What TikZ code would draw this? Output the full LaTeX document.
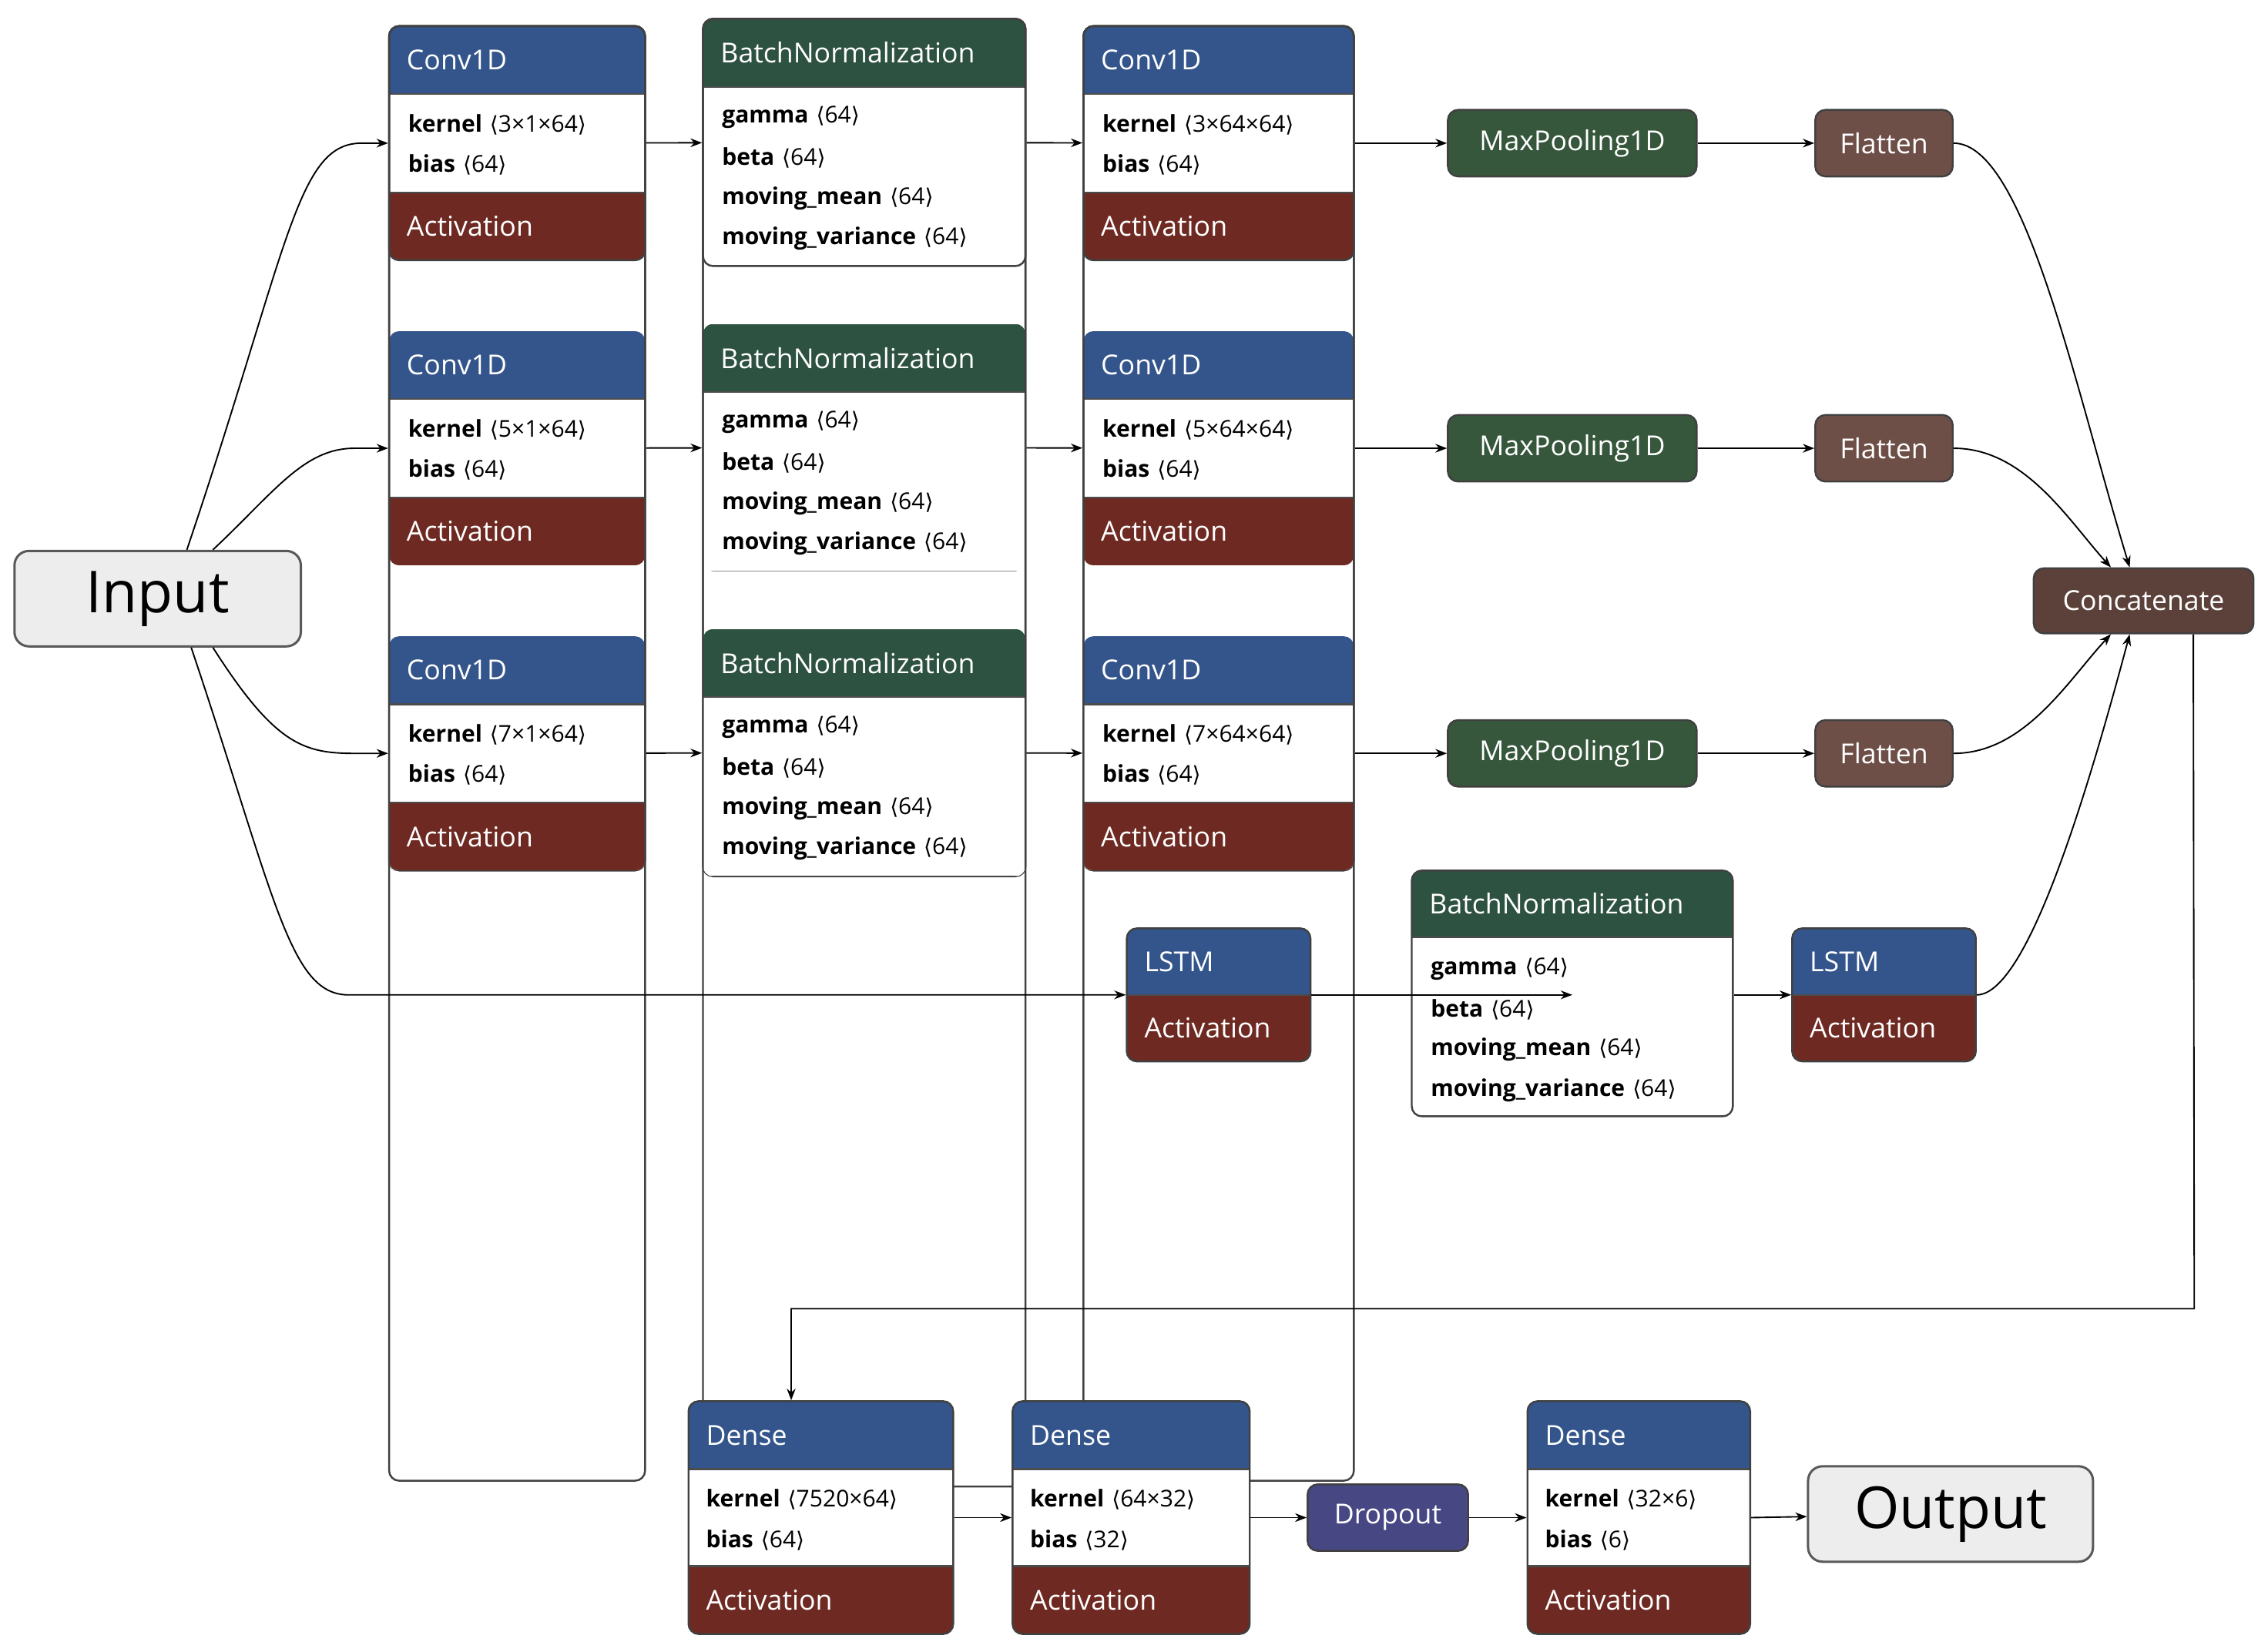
\documentclass[tikz,border=0pt]{standalone}
\usepackage{fontspec}
\setmainfont{Open Sans}
\newfontfamily\dv{DejaVu Sans}
\usetikzlibrary{arrows.meta}
\definecolor{hblue}{HTML}{34558B}
\definecolor{hgreen}{HTML}{2E5241}
\definecolor{actc}{HTML}{6E2A22}
\definecolor{mpc}{HTML}{36573B}
\definecolor{flc}{HTML}{6E4F48}
\definecolor{catc}{HTML}{5C413A}
\definecolor{dropc}{HTML}{474784}
\newcommand\ang[1]{{\dv\fontsize{15}{15}\selectfont⟨}#1{\dv\fontsize{15}{15}\selectfont⟩}}
\tikzset{
 ttl/.style={text=white,font=\fontsize{19}{22}\selectfont,inner sep=0pt},
 bd/.style={font=\fontsize{16}{18}\selectfont,inner sep=0pt},
 simple/.style={draw=black!75,line width=1.3pt,rounded corners=7pt,text=white,font=\fontsize{19}{22}\selectfont,inner sep=0pt},
 io/.style={draw=black!65,line width=1.6pt,rounded corners=10pt,fill=black!7,font=\fontsize{40}{44}\selectfont,inner sep=0pt},
 arr/.style={-{Stealth[length=8pt,width=6pt]},line width=1pt},
}
\newcommand\layer[9]{%
 \begin{scope}
 \clip[rounded corners=7pt] (#2,#3) rectangle (#4,#5);
 \fill[white] (#2,#3) rectangle (#4,#5);
 \fill[#8] (#2,#3) rectangle (#4,#6);
 \fill[actc] (#2,#7) rectangle (#4,#5);
 \draw[line width=1.2pt,black!70] (#2,#6) -- (#4,#6) (#2,#7) -- (#4,#7);
 \end{scope}
 \node[draw=black!75,line width=1.3pt,rounded corners=7pt,minimum width={(#4-#2)*1pt},minimum height={(#5-#3)*1pt},inner sep=0pt] (#1) at ({(#2+#4)/2},{(#3+#5)/2}) {};
 \node[ttl,anchor=west] (#1-t) at ({#2+12},{(#3+#6)/2}) {#9};
 \pgfmathtruncatemacro\hasact{(#7)<(#5)}%
 \ifnum\hasact=1 \node[ttl,anchor=west] (#1-a) at ({#2+12},{(#7+#5)/2}) {Activation};\fi
}
\newcommand\bl[4]{\node[bd,anchor=west] (#1) at (#2,#3) {#4};}
\begin{document}
\begin{tikzpicture}[x=1pt,y=-1pt]
\useasboundingbox (0,0) rectangle (1568,1142);
% rows
\foreach \r/\k/\kk [count=\i] in {0/3/3,211/5/5,422/7/7}{
 \layer{ca\i}{269}{18+\r}{446}{180+\r}{65+\r}{133+\r}{hblue}{Conv1D}
 \bl{ca\i-k}{282}{86+\r}{\textbf{kernel}\,\,\ang{\k×1×64}}
 \bl{ca\i-b}{282}{114+\r}{\textbf{bias}\,\,\ang{64}}
 \layer{bn\i}{486}{13+\r}{709}{184+\r}{60+\r}{184+\r}{hgreen}{BatchNormalization}
 \bl{bn\i-g}{499}{81+\r}{\textbf{gamma}\,\,\ang{64}}
 \bl{bn\i-b}{499}{109+\r}{\textbf{beta}\,\,\ang{64}}
 \bl{bn\i-m}{499}{137+\r}{\textbf{moving\_mean}\,\,\ang{64}}
 \bl{bn\i-v}{499}{165+\r}{\textbf{moving\_variance}\,\,\ang{64}}
 \layer{cb\i}{749}{18+\r}{936}{180+\r}{65+\r}{133+\r}{hblue}{Conv1D}
 \bl{cb\i-k}{762}{86+\r}{\textbf{kernel}\,\,\ang{\kk×64×64}}
 \bl{cb\i-b}{762}{114+\r}{\textbf{bias}\,\,\ang{64}}
 \node[simple,fill=mpc,minimum width=172pt,minimum height=46pt] (mp\i) at (1087,99+\r) {MaxPooling1D};
 \node[simple,fill=flc,minimum width=95pt,minimum height=46pt] (fl\i) at (1302.5,99+\r) {Flatten};
 \draw[arr] (ca\i) -- (bn\i);
 \draw[arr] (bn\i) -- (cb\i);
 \draw[arr] (cb\i) -- (mp\i);
 \draw[arr] (mp\i) -- (fl\i);
}
\node[io,minimum width=198pt,minimum height=66pt] (in) at (109,414) {Input};
\node[simple,fill=catc,minimum width=152pt,minimum height=45pt] (cat) at (1482,415.5) {Concatenate};
% LSTM branch
\layer{l1}{779}{642}{906}{734}{688}{688}{hblue}{LSTM}
\layer{bn4}{976}{602}{1198}{772}{648}{772}{hgreen}{BatchNormalization}
\bl{bn4-g}{989}{670}{\textbf{gamma}\,\,\ang{64}}
\bl{bn4-b}{989}{698}{\textbf{beta}\,\,\ang{64}}
\bl{bn4-m}{989}{726}{\textbf{moving\_mean}\,\,\ang{64}}
\bl{bn4-v}{989}{754}{\textbf{moving\_variance}\,\,\ang{64}}
\layer{l2}{1239}{642}{1366}{734}{688}{688}{hblue}{LSTM}
\draw[arr] (l1) -- (bn4 |- l1);
\draw[arr] (bn4.east |- l1) -- (l2);
% dense
\layer{d1}{476}{969}{659}{1130}{1016}{1083}{hblue}{Dense}
\bl{d1-k}{488}{1037}{\textbf{kernel}\,\,\ang{7520×64}}
\bl{d1-b}{488}{1065}{\textbf{bias}\,\,\ang{64}}
\layer{d2}{700}{969}{864}{1130}{1016}{1083}{hblue}{Dense}
\bl{d2-k}{712}{1037}{\textbf{kernel}\,\,\ang{64×32}}
\bl{d2-b}{712}{1065}{\textbf{bias}\,\,\ang{32}}
\node[simple,fill=dropc,minimum width=111pt,minimum height=46pt] (dr) at (959.5,1049.5) {Dropout};
\layer{d3}{1056}{969}{1210}{1130}{1016}{1083}{hblue}{Dense}
\bl{d3-k}{1068}{1037}{\textbf{kernel}\,\,\ang{32×6}}
\bl{d3-b}{1068}{1065}{\textbf{bias}\,\,\ang{6}}
\node[io,minimum width=197pt,minimum height=66pt] (out) at (1348.5,1047) {Output};
\draw[arr] (d1.east |- dr) -- (d2.west |- dr);
\draw[arr] (d2.east |- dr) -- (dr);
\draw[arr] (dr) -- (d3.west |- dr);
\draw[arr] (d3.east |- dr) -- (out);
% connectors from input
\draw[arr] ([xshift=120pt]in.north west) .. controls (200,170) and (205,99) .. (250,99) -- (ca1.west);
\draw[arr] ([xshift=138pt]in.north west) .. controls (190,340) and (210,310) .. (245,310) -- (ca2.west);
\draw[arr] ([xshift=138pt]in.south west) .. controls (190,515) and (210,521) .. (245,521) -- (ca3.west);
\draw[arr] ([xshift=123pt]in.south west) .. controls (190,620) and (200,687) .. (240,688) -- (l1.west);
% to concatenate
\draw[arr] (fl1.east) .. controls (1400,99) and (1435,270) .. ([xshift=67pt]cat.north west);
\draw[arr] (fl2.east) .. controls (1400,310) and (1430,360) .. ([xshift=54pt]cat.north west);
\draw[arr] (fl3.east) .. controls (1400,521) and (1430,470) .. ([xshift=54pt]cat.south west);
\draw[arr] (l2.east) .. controls (1400,688) and (1440,560) .. ([xshift=67pt]cat.south west);
\draw[arr] ([xshift=111pt]cat.south west) -- (1517,905) -- (547,905) -- ([xshift=-20.5pt]d1.north);
\end{tikzpicture}
\end{document}
